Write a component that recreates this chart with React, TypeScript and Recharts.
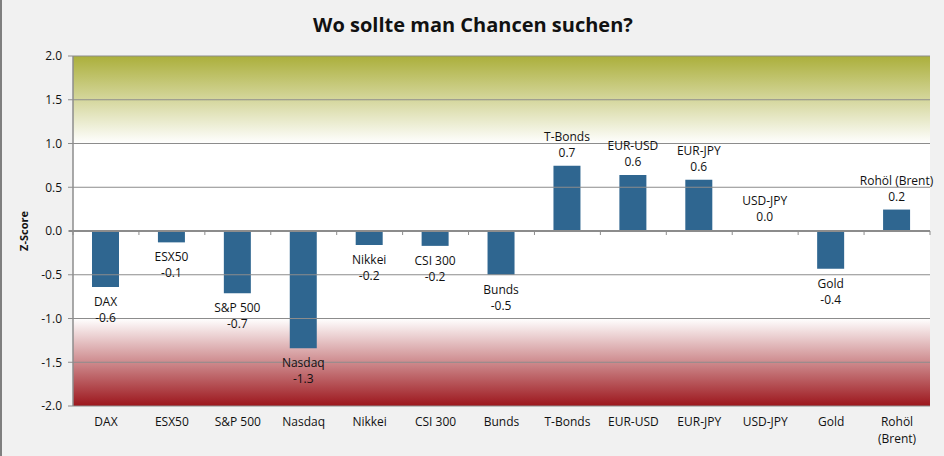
import React from 'react';
import { BarChart, Bar, XAxis, YAxis, ReferenceArea, ReferenceLine, LabelList } from 'recharts';

const categories = ['DAX', 'ESX50', 'S&P 500', 'Nasdaq', 'Nikkei', 'CSI 300', 'Bunds', 'T-Bonds', 'EUR-USD', 'EUR-JPY', 'USD-JPY', 'Gold', 'Rohöl (Brent)'];
const zScores = [-0.64, -0.13, -0.71, -1.34, -0.16, -0.17, -0.5, 0.745, 0.64, 0.585, 0.01, -0.43, 0.245];
const yTicks = [-2, -1.5, -1, -0.5, 0, 0.5, 1, 1.5, 2];

const data = categories.map((name, i) => ({ name, value: zScores[i] }));

const FONT = '"Open Sans", "Noto Sans", sans-serif';
const BAR_COLOR = '#2f6690';
const GRID = '#8c8c8c';

// two-line label (category + value), below negative bars, above positive ones
const BarLabel = (props: any) => {
  const { x, y, width, height, value } = props;
  const name = String(value);
  const v = zScores[categories.indexOf(name)];
  const cx = x + width / 2;
  const top = Math.min(y, y + height);
  const bottom = Math.max(y, y + height);
  const txt = v.toFixed(1);
  if (v < 0) {
    return (
      <text x={cx} textAnchor="middle" fontSize={12} fontFamily={FONT} fill="#111">
        <tspan x={cx} y={bottom + 19}>{name}</tspan>
        <tspan x={cx} y={bottom + 35}>{txt}</tspan>
      </text>
    );
  }
  return (
    <text x={cx} textAnchor="middle" fontSize={12} fontFamily={FONT} fill="#111">
      <tspan x={cx} y={top - 25}>{name}</tspan>
      <tspan x={cx} y={top - 9}>{txt}</tspan>
    </text>
  );
};

const CategoryTick = (props: any) => {
  const { x, y, payload } = props;
  const label: string = payload.value;
  const cut = label.indexOf(' (');
  const parts = cut > 0 ? [label.slice(0, cut), label.slice(cut + 1)] : [label];
  return (
    <text x={x} textAnchor="middle" fontSize={12} fontFamily={FONT} fill="#111">
      {parts.map((p, i) => (
        <tspan key={i} x={x} y={y + 12 + i * 17}>{p}</tspan>
      ))}
    </text>
  );
};

// zero line acting as the category axis, with ticks between categories
const ZeroAxis = (props: any) => {
  const { x1, x2, y1 } = props;
  const n = categories.length;
  const step = (x2 - x1) / n;
  const ticks = [];
  for (let i = 0; i <= n; i++) {
    const tx = x1 + i * step;
    ticks.push(<line key={i} x1={tx} x2={tx} y1={y1} y2={y1 + 4} stroke={GRID} strokeWidth={1} />);
  }
  return (
    <g>
      <line x1={x1 - 4} x2={x2} y1={y1} y2={y1} stroke={GRID} strokeWidth={2} />
      {ticks}
    </g>
  );
};

export default function App() {
  return (
    <div style={{ position: 'absolute', left: 0, top: 0, width: 944, height: 456, background: '#f1f1f1', borderLeft: '2px solid #7f7f7f', boxSizing: 'border-box', fontFamily: FONT }}>
      <div style={{ position: 'absolute', left: 0, right: 0, top: 11, textAlign: 'center', fontSize: 20, fontWeight: 700, color: '#111' }}>
        Wo sollte man Chancen suchen?
      </div>
      <BarChart width={942} height={456} data={data} margin={{ top: 56, right: 14, bottom: 0, left: 0 }} style={{ position: 'absolute', left: 0, top: 0 }}>
        <defs>
          <linearGradient id="greenBand" x1="0" y1="0" x2="0" y2="1">
            <stop offset="0%" stopColor="#abaf3b" />
            <stop offset="100%" stopColor="#ffffff" />
          </linearGradient>
          <linearGradient id="redBand" x1="0" y1="0" x2="0" y2="1">
            <stop offset="0%" stopColor="#ffffff" />
            <stop offset="100%" stopColor="#9c161c" />
          </linearGradient>
        </defs>
        <ReferenceArea y1={-2} y2={2} fill="#ffffff" fillOpacity={1} stroke="none" />
        <ReferenceArea y1={1} y2={2} fill="url(#greenBand)" fillOpacity={1} stroke="none" />
        <ReferenceArea y1={-2} y2={-1} fill="url(#redBand)" fillOpacity={1} stroke="none" />
        {yTicks.filter((t) => t !== 0).map((t) => (
          <ReferenceLine key={t} y={t} stroke={GRID} strokeWidth={1} />
        ))}
        <XAxis dataKey="name" interval={0} axisLine={false} tickLine={false} tick={<CategoryTick />} height={50} />
        <YAxis
          type="number"
          domain={[-2, 2]}
          ticks={yTicks}
          width={71}
          tickFormatter={(v: number) => v.toFixed(1)}
          tick={{ fontSize: 12, fontFamily: FONT, fill: '#111' }}
          tickSize={5}
          tickMargin={6}
          stroke={GRID}
          axisLine={{ stroke: GRID, strokeWidth: 1.5 }}
          tickLine={{ stroke: GRID }}
          label={{ value: 'Z-Score', angle: -90, position: 'insideLeft', offset: 22, style: { fontSize: 11, fontWeight: 700, fontFamily: FONT, fill: '#111', textAnchor: 'middle' } }}
        />
        <Bar dataKey="value" fill={BAR_COLOR} barSize={27} isAnimationActive={false}>
          <LabelList dataKey="name" content={<BarLabel />} />
        </Bar>
        <ReferenceLine y={0} shape={<ZeroAxis />} />
      </BarChart>
    </div>
  );
}
